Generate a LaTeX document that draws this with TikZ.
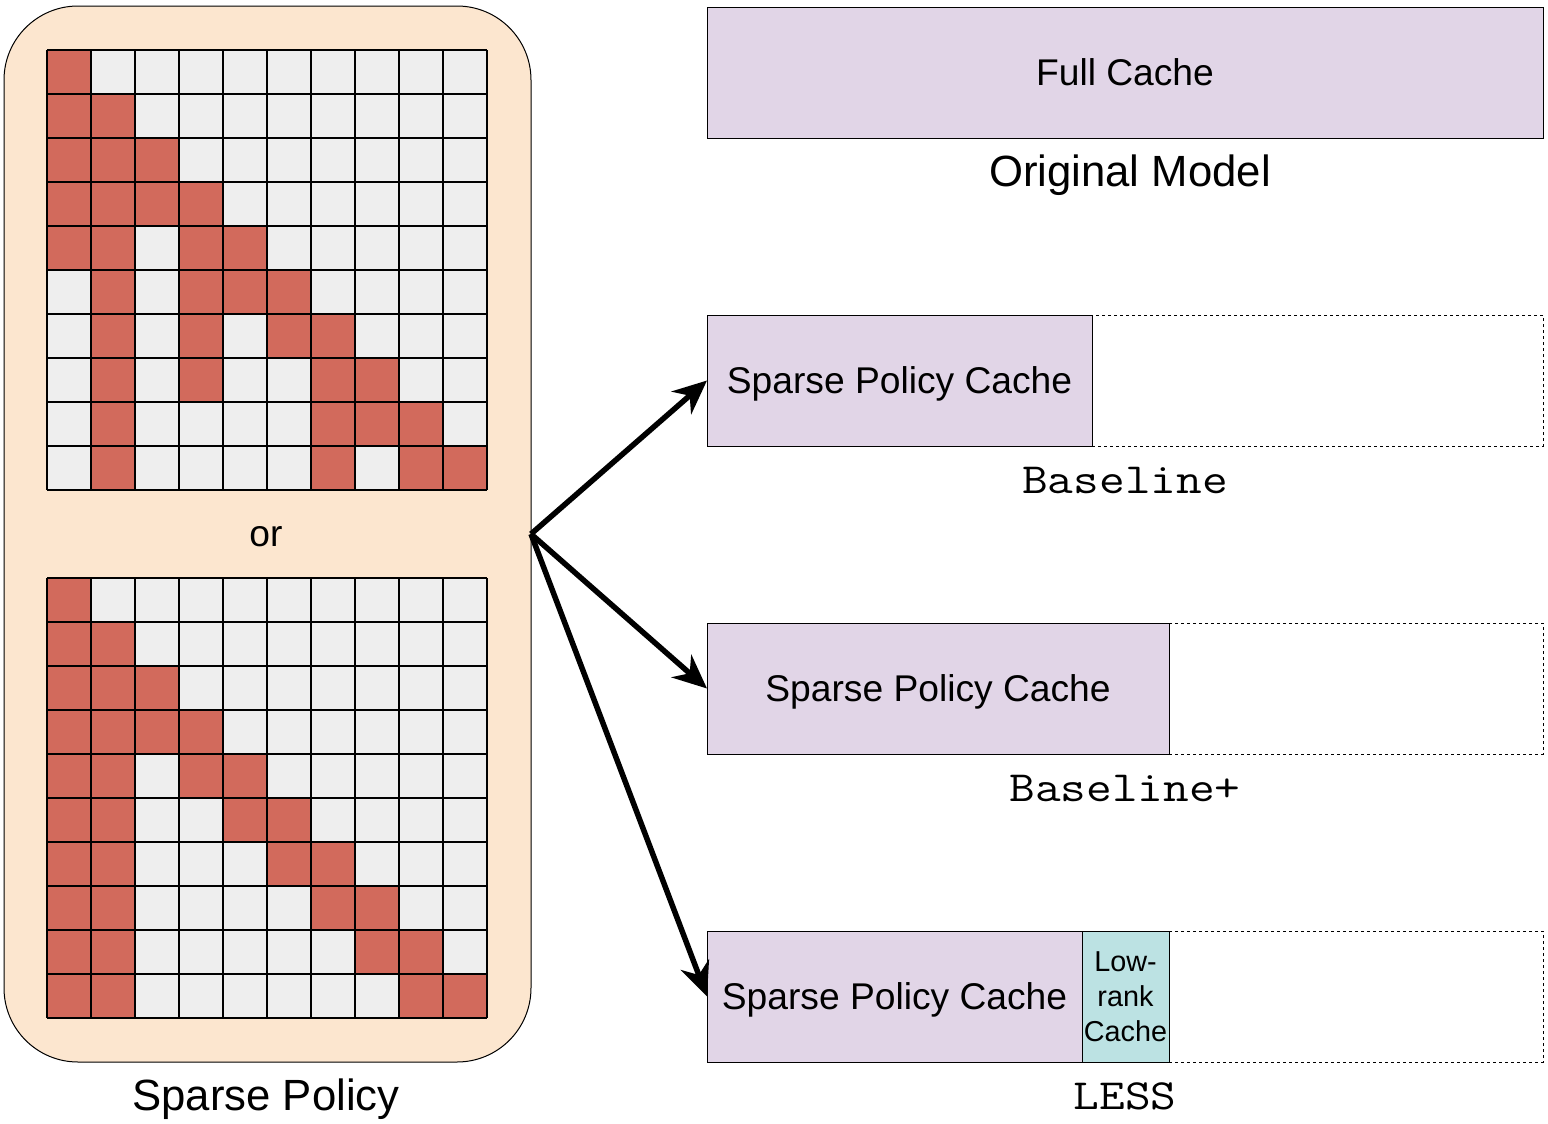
\documentclass[tikz,border=0pt]{standalone}
\usepackage{fontspec}
\setmainfont{Liberation Sans}
\usetikzlibrary{arrows.meta}
\definecolor{peach}{HTML}{FCE6CF}
\definecolor{cellred}{HTML}{D26A5C}
\definecolor{cellgray}{HTML}{EEEEEE}
\definecolor{lilac}{HTML}{E1D5E7}
\definecolor{teal}{HTML}{BCE2E3}
\begin{document}
\begin{tikzpicture}[x=0.5pt,y=-0.5pt,
  cell/.style={draw=black,line width=0.75pt},
  cachebox/.style={draw=black,line width=0.5pt,fill=lilac,anchor=north west,inner sep=0pt,outer sep=0pt,minimum height=65.5pt,text depth=0pt,font=\fontsize{18.6}{22}\selectfont},
  emptybox/.style={draw=black,line width=0.5pt,dash pattern=on 1.5pt off 1.5pt,anchor=north west,inner sep=0pt,outer sep=0pt,minimum height=65.5pt},
  lowrank/.style={draw=black,line width=0.5pt,fill=teal,anchor=north west,inner sep=0pt,outer sep=0pt,minimum height=65.5pt,align=center,font=\fontsize{14.4}{17.5}\selectfont},
  caption/.style={anchor=base,inner sep=0pt,font=\fontsize{21.85}{26}\selectfont},
  monocap/.style={anchor=base,inner sep=0pt,font=\fontsize{21.5}{26}\ttfamily},
  arr/.style={line width=2.75pt,-{Stealth[length=17pt,width=15pt,inset=5.5pt]}}
]
\useasboundingbox (0,0) rectangle (1548,1124);

% sparse policy panel
\node[draw=black,line width=0.5pt,fill=peach,rounded corners=37pt,anchor=north west,inner sep=0pt,outer sep=0pt,minimum width=263.5pt,minimum height=528pt] (policy) at (4,6) {};

% grids
\foreach \gy/\reds in {50/{0/0,0/1,1/1,0/2,1/2,2/2,0/3,1/3,2/3,3/3,0/4,1/4,3/4,4/4,1/5,3/5,4/5,5/5,1/6,3/6,5/6,6/6,1/7,3/7,6/7,7/7,1/8,6/8,7/8,8/8,1/9,6/9,8/9,9/9},
                       578/{0/0,0/1,1/1,0/2,1/2,2/2,0/3,1/3,2/3,3/3,0/4,1/4,3/4,4/4,0/5,1/5,4/5,5/5,0/6,1/6,5/6,6/6,0/7,1/7,6/7,7/7,0/8,1/8,7/8,8/8,0/9,1/9,8/9,9/9}} {
  \foreach \c in {0,...,9} \foreach \r in {0,...,9}
    \fill[cellgray] (47+44*\c,\gy+44*\r) rectangle ++(44,44);
  \foreach \c/\r in \reds
    \fill[cellred] (47+44*\c,\gy+44*\r) rectangle ++(44,44);
  \foreach \i in {0,...,10} {
    \draw[line width=0.75pt] (47+44*\i,\gy) -- (47+44*\i,\gy+440);
    \draw[line width=0.75pt] (47,\gy+44*\i) -- (487,\gy+44*\i);
  }
}

\node[anchor=base,inner sep=0pt,font=\fontsize{18.6}{22}\selectfont] (or) at (266,546.5) {or};
\node[caption] (sp) at (266,1110.5) {Sparse Policy};

% full cache
\node[cachebox,minimum width=418pt] (full) at (707,7) {Full Cache};
\node[caption] (orig) at (1130,186.5) {Original Model};

% baseline
\node[cachebox,minimum width=192.5pt] (b1) at (707,315) {Sparse Policy Cache};
\node[emptybox,minimum width=225.5pt] (e1) at (1092,315) {};
\node[monocap] (l1) at (1125,493.5) {\scalebox{1.16}[1]{Baseline}};

% baseline+
\node[cachebox,minimum width=231pt] (b2) at (707,623) {Sparse Policy Cache};
\node[emptybox,minimum width=187pt] (e2) at (1169,623) {};
\node[monocap] (l2) at (1125,801.5) {\scalebox{1.16}[1]{Baseline+}};

% LESS
\node[cachebox,minimum width=187.5pt] (b3) at (707,931) {Sparse Policy Cache};
\node[lowrank,minimum width=43.5pt] (lr) at (1082,931) {Low-\\rank\\Cache};
\node[emptybox,minimum width=187pt] (e3) at (1169,931) {};
\node[monocap] (l3) at (1125,1109.5) {\scalebox{1.16}[1]{LESS}};

% arrows
\draw[arr] (policy.east) -- (b1.west);
\draw[arr] (policy.east) -- (b2.west);
\draw[arr] (policy.east) -- (b3.west);
\end{tikzpicture}
\end{document}
